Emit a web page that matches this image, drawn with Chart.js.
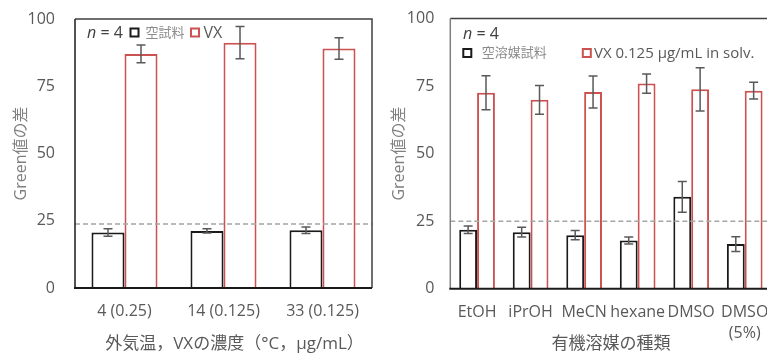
<!DOCTYPE html>
<html>
<head>
<meta charset="utf-8">
<script src="https://cdn.jsdelivr.net/npm/chart.js@4"></script>
<style>
  html, body { margin: 0; padding: 0; background: #fff; }
  #wrap { position: relative; width: 767px; height: 358px; overflow: hidden; }
  #c1 { position: absolute; left: 0; top: 0; }
  #c2 { position: absolute; left: 380px; top: 0; }
</style>
</head>
<body>
<div id="wrap">
  <canvas id="c1" width="380" height="358"></canvas>
  <canvas id="c2" width="402" height="358"></canvas>
</div>
<script>
// left chart: outside temperature / VX concentration
const tempLabels = ["4 (0.25)", "14 (0.125)", "33 (0.125)"];
const tempBlank = [20.6, 21.2, 21.5];
const tempBlankErr = [1.4, 0.8, 1.2];
const tempVX = [87.0, 91.2, 89.0];
const tempVXErr = [3.3, 6.0, 4.0];
const tempThreshold = 23.8;

// right chart: organic solvent
const solvLabels = ["EtOH", "iPrOH", "MeCN", "hexane", "DMSO", ["DMSO", "(5%)"]];
const solvBlank = [21.8, 20.9, 19.8, 17.8, 34.0, 16.5];
const solvBlankErr = [1.4, 1.8, 1.7, 1.3, 5.7, 2.7];
const solvVX = [72.5, 69.9, 72.8, 75.9, 73.8, 73.3];
const solvVXErr = [6.3, 5.3, 5.9, 3.6, 8.0, 3.1];
const solvThreshold = 25;

const yTicks = [0, 25, 50, 75, 100];

const FONT = "'Open Sans', 'Noto Sans CJK JP', sans-serif";
const RED = "#cc5252";
const BLACK = "#1a1a1a";
const GRAY = "#595959";

// error bars + dashed threshold line
const errorBars = {
  id: "errorBars",
  afterDatasetsDraw(chart, args, opts) {
    const ctx = chart.ctx;
    const y = chart.scales.y;
    const area = chart.chartArea;
    const ty = y.getPixelForValue(opts.threshold);
    ctx.save();
    ctx.strokeStyle = "#a6a6a6";
    ctx.lineWidth = 1.5;
    ctx.setLineDash([5, 3]);
    ctx.beginPath();
    ctx.moveTo(area.left, ty);
    ctx.lineTo(area.right, ty);
    ctx.stroke();
    ctx.restore();

    chart.data.datasets.forEach((ds, i) => {
      const meta = chart.getDatasetMeta(i);
      meta.data.forEach((bar, j) => {
        const v = ds.data[j], e = ds.errors[j];
        const top = y.getPixelForValue(v + e);
        const bot = y.getPixelForValue(v - e);
        const w = opts.cap;
        ctx.save();
        ctx.strokeStyle = GRAY;
        ctx.lineWidth = 1.5;
        ctx.beginPath();
        ctx.moveTo(bar.x, top); ctx.lineTo(bar.x, bot);
        ctx.moveTo(bar.x - w, top); ctx.lineTo(bar.x + w, top);
        ctx.moveTo(bar.x - w, bot); ctx.lineTo(bar.x + w, bot);
        ctx.stroke();
        ctx.restore();
      });
    });
  }
};

// plot frame and x title
const frame = {
  id: "frame",
  afterDraw(chart, args, opts) {
    const ctx = chart.ctx;
    const a = chart.chartArea;
    ctx.save();
    ctx.lineWidth = 1.5;
    ctx.strokeStyle = "#404040";
    ctx.beginPath();
    ctx.moveTo(a.left, a.top); ctx.lineTo(a.right, a.top); ctx.lineTo(a.right, a.bottom);
    ctx.stroke();
    ctx.strokeStyle = opts.leftColor;
    ctx.beginPath();
    ctx.moveTo(a.left, a.top); ctx.lineTo(a.left, a.bottom);
    ctx.stroke();
    ctx.lineWidth = 2;
    ctx.strokeStyle = BLACK;
    ctx.beginPath();
    ctx.moveTo(a.left - 1, a.bottom); ctx.lineTo(a.right, a.bottom);
    ctx.stroke();

    ctx.fillStyle = GRAY;
    ctx.font = "17px " + FONT;
    ctx.textAlign = "center";
    ctx.textBaseline = "middle";
    ctx.fillText(opts.xTitle, (a.left + a.right) / 2 + opts.dx, 344);
    ctx.restore();
  }
};

// legend drawn inside plot area
const inLegend = {
  id: "inLegend",
  afterDraw(chart, args, opts) {
    const ctx = chart.ctx;
    const a = chart.chartArea;
    ctx.save();
    ctx.textBaseline = "middle";
    const nx = a.left + opts.n[0], ny = a.top + opts.n[1];
    ctx.fillStyle = "#404040";
    ctx.font = "italic 16px " + FONT;
    ctx.fillText("n", nx, ny);
    const nw = ctx.measureText("n").width;
    ctx.font = "16px " + FONT;
    ctx.fillText(" = 4", nx + nw, ny);
    opts.items.forEach(it => {
      const bx = a.left + it.box[0], by = a.top + it.box[1];
      ctx.lineWidth = 2;
      ctx.strokeStyle = it.color;
      ctx.strokeRect(bx, by, 8, 8);
      ctx.fillStyle = it.textColor;
      ctx.font = it.size + "px " + FONT;
      ctx.fillText(it.text, a.left + it.tx, by + 4.5);
    });
    ctx.restore();
  }
};

function makeChart(id, labels, blank, blankErr, vx, vxErr, opt) {
  const ctx = document.getElementById(id).getContext("2d");
  return new Chart(ctx, {
    type: "bar",
    data: {
      labels: labels,
      datasets: [
        {
          label: opt.blankName,
          data: blank,
          errors: blankErr,
          backgroundColor: "#ffffff",
          borderColor: BLACK,
          borderWidth: 2,
          borderSkipped: "bottom",
          categoryPercentage: 0.667,
          barPercentage: 1.0,
        },
        {
          label: opt.vxName,
          data: vx,
          errors: vxErr,
          backgroundColor: "#ffffff",
          borderColor: RED,
          borderWidth: 2,
          borderSkipped: "bottom",
          categoryPercentage: 0.667,
          barPercentage: 1.0,
        },
      ],
    },
    options: {
      responsive: false,
      animation: false,
      devicePixelRatio: 1,
      layout: { padding: { top: opt.top, right: 8, left: 0, bottom: 0 } },
      scales: {
        x: {
          grid: { display: false, drawTicks: false },
          border: { display: false },
          ticks: {
            color: GRAY,
            padding: 13,
            maxRotation: 0,
            autoSkip: false,
            font: { family: FONT, size: 16, lineHeight: 1.32 },
          },
          afterFit(scale) { scale.height = 358 - opt.bottom; },
        },
        y: {
          min: 0,
          max: 100,
          afterBuildTicks(scale) { scale.ticks = yTicks.map(v => ({ value: v })); },
          grid: { display: false, drawTicks: false },
          border: { display: false },
          ticks: {
            color: GRAY,
            padding: opt.yPad,
            font: { family: FONT, size: 16 },
          },
          title: {
            display: true,
            text: "Green値の差",
            color: "#808080",
            font: { family: FONT, size: 16 },
            padding: { top: opt.titlePad, bottom: 0 },
          },
          afterFit(scale) {
            scale.width = opt.yWidth;
            scale.paddingTop = 0;
            scale.paddingBottom = 0;
          },
        },
      },
      plugins: {
        legend: { display: false },
        tooltip: { enabled: false },
        errorBars: { threshold: opt.threshold, cap: 4.5 },
        frame: { leftColor: opt.leftColor, xTitle: opt.xTitle, dx: opt.titleDx },
        inLegend: opt.legend,
      },
    },
    plugins: [errorBars, frame, inLegend],
  });
}

makeChart("c1", tempLabels, tempBlank, tempBlankErr, tempVX, tempVXErr, {
  blankName: "空試料",
  vxName: "VX",
  xTitle: "外気温，VXの濃度（°C，μg/mL）",
  titleDx: 11,
  threshold: tempThreshold,
  top: 19,
  bottom: 288,
  yWidth: 75,
  yPad: 20,
  titlePad: 12,
  leftColor: BLACK,
  legend: {
    n: [12, 14.5],
    items: [
      { box: [55.5, 9.5], color: BLACK, text: "空試料", tx: 70.5, textColor: "#8c8c8c", size: 13 },
      { box: [116, 9.5], color: RED, text: "VX", tx: 128.5, textColor: GRAY, size: 16 },
    ],
  },
});

makeChart("c2", solvLabels, solvBlank, solvBlankErr, solvVX, solvVXErr, {
  blankName: "空溶媒試料",
  vxName: "VX 0.125 μg/mL in solv.",
  xTitle: "有機溶媒の種類",
  titleDx: 0,
  threshold: solvThreshold,
  top: 18.5,
  bottom: 288.7,
  yWidth: 70.3,
  yPad: 16,
  titlePad: 9.5,
  leftColor: "#7f7f7f",
  legend: {
    n: [12.7, 15.5],
    items: [
      { box: [13, 30.5], color: BLACK, text: "空溶媒試料", tx: 31.4, textColor: "#8c8c8c", size: 13 },
      { box: [132.5, 30.5], color: RED, text: "VX 0.125 μg/mL in solv.", tx: 143.7, textColor: GRAY, size: 15 },
    ],
  },
});
</script>
</body>
</html>
